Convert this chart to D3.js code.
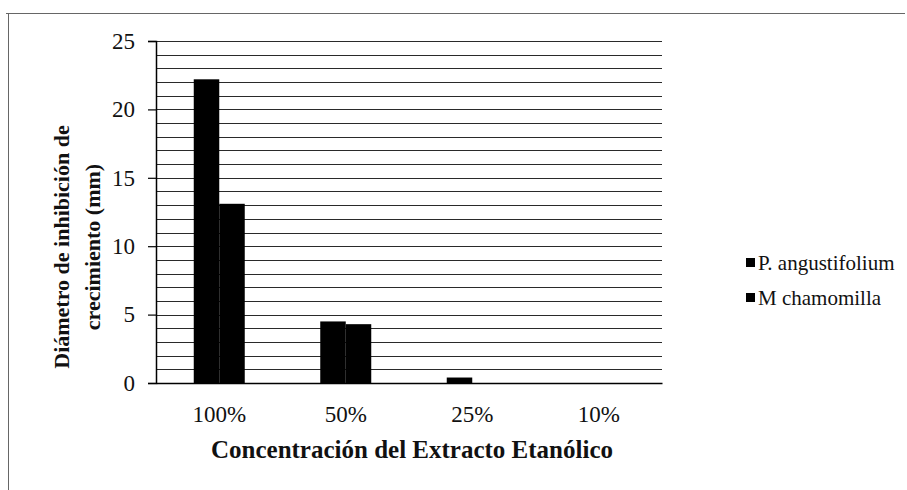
<!DOCTYPE html>
<html>
<head>
<meta charset="UTF-8">
<title>Chart</title>
<script src="https://cdn.jsdelivr.net/npm/d3@7"></script>
<style>
  body{ margin:0; background:#fff; }
  #root svg{ font-family:'Liberation Serif', Tinos, serif; }
</style>
</head>
<body>
<div id="root"></div>
<script>
  let categories = ["100%","50%","25%","10%"]
  let seriesNames = ["P. angustifolium","M chamomilla"]
  let pAngustifolium = [22.2, 4.5, 0.4, 0]
  let mChamomilla = [13.1, 4.3, 0, 0]
  let yTicks = [0,5,10,15,20,25]

  let width = 907, height = 490
  let plotLeft = 156, plotRight = 662, plotTop = 41, plotBottom = 383

  let svg = d3.select("#root").append("svg").attr("width",width).attr("height",height)

  // outer frame (scanned look)
  svg.append("line").attr("x1",6).attr("x2",905).attr("y1",13.5).attr("y2",13.5)
     .attr("stroke","#666").attr("stroke-width",1)
  svg.append("line").attr("x1",8.5).attr("x2",8.5).attr("y1",13).attr("y2",490)
     .attr("stroke","#666").attr("stroke-width",1)

  let y = d3.scaleLinear().domain([0,25]).range([plotBottom,plotTop])
  let x0 = d3.scaleBand().domain(categories).range([plotLeft,plotRight])
  let barW = 25.5
  let x1 = d3.scaleBand().domain(seriesNames)
     .range([x0.bandwidth()/2 - barW, x0.bandwidth()/2 + barW])

  // gridlines every 1 mm
  svg.append("g").selectAll("line").data(d3.range(1,26)).join("line")
     .attr("x1",plotLeft).attr("x2",plotRight)
     .attr("y1",d=>Math.round(y(d))+0.5).attr("y2",d=>Math.round(y(d))+0.5)
     .attr("stroke","#2a2a2a").attr("stroke-width",1)

  // bars
  let rows = categories.map((c,i)=>({cat:c, vals:[pAngustifolium[i], mChamomilla[i]]}))
  svg.append("g").selectAll("g").data(rows).join("g")
     .attr("transform",d=>"translate("+x0(d.cat)+",0)")
     .selectAll("rect").data(d=>d.vals.map((v,j)=>({s:seriesNames[j],v:v}))).join("rect")
     .attr("x",d=>x1(d.s)).attr("width",x1.bandwidth())
     .attr("y",d=>y(d.v)).attr("height",d=>plotBottom-y(d.v))
     .attr("fill","#000")

  // y axis (drop d3's default sans-serif attributes so the svg font is inherited)
  let yAxis = svg.append("g").attr("transform","translate("+plotLeft+",0)")
     .call(d3.axisLeft(y).tickValues(yTicks).tickSize(8).tickPadding(13).tickFormat(d3.format("d")))
  yAxis.attr("font-family",null).attr("font-size",null)
  yAxis.select(".domain").attr("stroke","#000").attr("stroke-width",1.5)
  yAxis.selectAll(".tick line").attr("stroke","#000").attr("stroke-width",1.2)
  yAxis.selectAll("text").attr("font-size",23).attr("fill","#111")

  // x axis
  let xAxis = svg.append("g").attr("transform","translate(0,"+plotBottom+")")
     .call(d3.axisBottom(x0).tickSize(0).tickPadding(23))
  xAxis.attr("font-family",null).attr("font-size",null)
  xAxis.select(".domain").attr("stroke","#000").attr("stroke-width",1.5)
  xAxis.selectAll("text").attr("font-size",23).attr("fill","#111")

  // axis titles
  svg.append("text").attr("x",412).attr("y",458).attr("text-anchor","middle")
     .attr("font-size",25).attr("font-weight","bold").attr("fill","#111")
     .text("Concentración del Extracto Etanólico")

  let yTitle = svg.append("text").attr("transform","translate(0,247) rotate(-90)")
     .attr("text-anchor","middle").attr("font-size",22).attr("font-weight","bold").attr("fill","#111")
  yTitle.append("tspan").attr("x",0).attr("y",69).text("Diámetro de inhibición de")
  yTitle.append("tspan").attr("x",0).attr("y",100).text("crecimiento (mm)")

  // legend
  let legend = svg.append("g").selectAll("g").data(seriesNames).join("g")
     .attr("transform",(d,i)=>"translate(746,"+(263+i*35)+")")
  legend.append("rect").attr("x",0).attr("y",-5).attr("width",9).attr("height",9).attr("fill","#000")
  legend.append("text").attr("x",12).attr("y",7).attr("font-size",21).attr("fill","#111").text(d=>d)
</script>
</body>
</html>
